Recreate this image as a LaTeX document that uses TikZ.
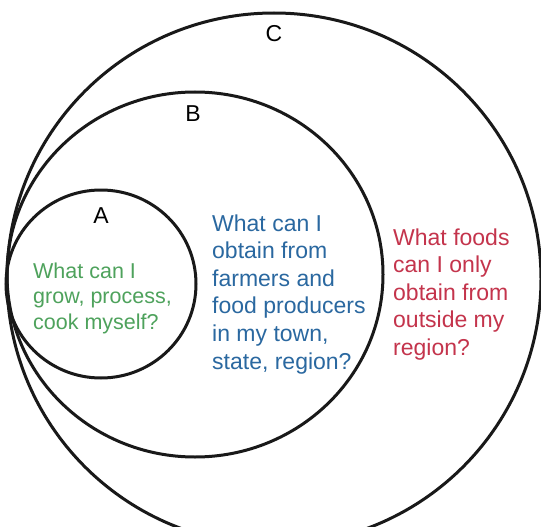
\documentclass[tikz,border=0pt]{standalone}
\usepackage{fontspec}
\setmainfont{Liberation Sans}
\definecolor{tgreen}{RGB}{78,162,92}
\definecolor{tblue}{RGB}{42,104,160}
\definecolor{tred}{RGB}{196,52,76}
\begin{document}
\begin{tikzpicture}[x=1pt,y=-1pt,
  ring/.style={draw=black!90,line width=3pt},
  lab/.style={font=\fontsize{23}{27}\selectfont,inner sep=0pt},
  qtext/.style={align=left,inner sep=0pt,anchor=base west}]
\useasboundingbox (0,0) rectangle (541,527);
\fill[white] (0,0) rectangle (541,527);
\draw[ring] (274,279) ellipse [x radius=267,y radius=266];
\draw[ring] (195,274.5) ellipse [x radius=188,y radius=182.5];
\draw[ring] (101,284) ellipse [x radius=95,y radius=94];
\node[lab] (C) at (274,34) {C};
\node[lab] (B) at (193,114) {B};
\node[lab] (A) at (101,216) {A};
% base anchor = baseline of the last line
\node[qtext,text=tgreen,font=\fontsize{21.5}{25.5}\selectfont] (qa) at (33,329)
  {What can I\\grow, process,\\cook myself?};
\node[qtext,text=tblue,font=\fontsize{23}{27.6}\selectfont] (qb) at (212,369)
  {What can I\\obtain from\\farmers and\\food producers\\in my town,\\state, region?};
\node[qtext,text=tred,font=\fontsize{23}{27.5}\selectfont] (qc) at (393,355)
  {What foods\\can I only\\obtain from\\outside my\\region?};
\end{tikzpicture}
\end{document}
